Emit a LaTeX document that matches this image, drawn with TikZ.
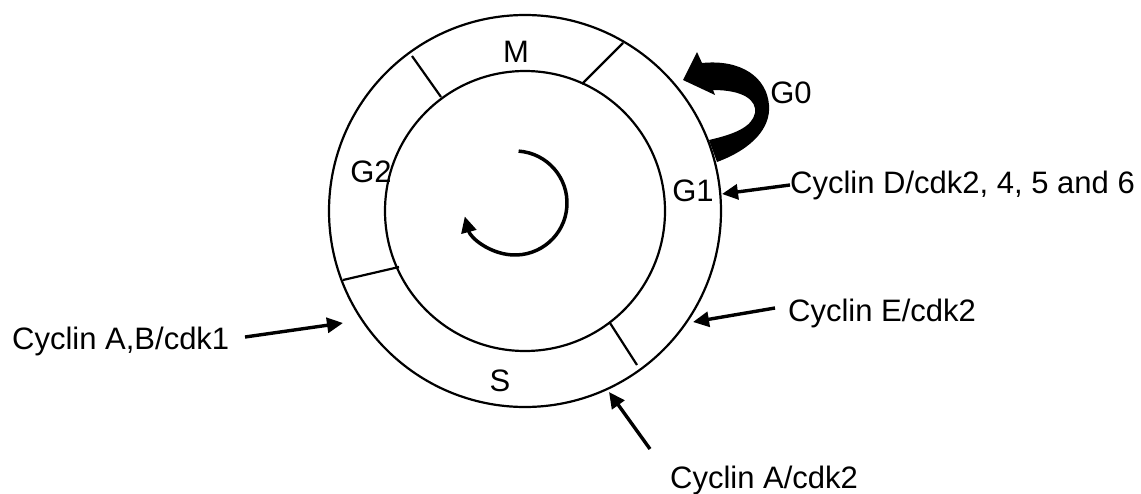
\documentclass[tikz,border=0pt]{standalone}
\usepackage{fontspec}
\setmainfont{Liberation Sans}
\usetikzlibrary{arrows.meta}
\begin{document}
\begin{tikzpicture}[x=1pt,y=-1pt,
  ring/.style={line width=2.2pt},
  lbl/.style={font=\fontsize{31}{36}\selectfont, inner sep=0pt},
  ptr/.style={line width=3.4pt, -{Triangle[length=16pt,width=15pt]}},
  spin/.style={line width=3.5pt, -{Triangle[length=16pt,width=15pt]}}
]
\path[use as bounding box, fill=white] (0,0) rectangle (1141,493);
\coordinate (c) at (525,211);
\draw[ring] (c) circle[radius=196];
\draw[ring] (c) circle[radius=140];
% phase dividers
\coordinate (d1a) at (412,56);  \coordinate (d1b) at (441,97);
\coordinate (d2a) at (623,43);  \coordinate (d2b) at (582,84);
\coordinate (d3a) at (343,280); \coordinate (d3b) at (399,267);
\coordinate (d4a) at (610,323); \coordinate (d4b) at (637,365);
\draw[ring] (d1a) -- (d1b);
\draw[ring] (d2a) -- (d2b);
\draw[ring] (d3a) -- (d3b);
\draw[ring] (d4a) -- (d4b);
% phase labels
\node[lbl] (M) at (516,52) {M};
\node[lbl] (G2) at (371,172) {G2};
\node[lbl] (G1) at (693,191) {G1};
\node[lbl] (S) at (500,381) {S};
\node[lbl] (G0) at (791,93) {G0};
% central rotation arrow
\coordinate (sc) at (515,203);
\draw[spin] (sc) ++(-86:52) arc[start angle=-86, end angle=165, radius=52];
% G0 curved block arrow
\fill (717,162) .. controls (752,149) and (771,128) .. (769,105)
  .. controls (767,78) and (742,59) .. (702,63)
  -- (697,52) -- (683,80) -- (715,95) -- (713,90)
  .. controls (743,90) and (757,100) .. (755,113)
  .. controls (752,127) and (735,134) .. (709,140) -- cycle;
% cyclin labels
\node[lbl, anchor=base west] (cd) at (790,193) {Cyclin D/cdk2, 4, 5 and 6};
\node[lbl, anchor=base west] (ce) at (788,321) {Cyclin E/cdk2};
\node[lbl, anchor=base west] (ca2) at (670,488) {Cyclin A/cdk2};
\node[lbl, anchor=base west] (cab) at (12,349) {Cyclin A,B/cdk1};
% arrows
\coordinate (tD) at (722,194);
\coordinate (sE) at (775,308); \coordinate (tE) at (693,322);
\coordinate (sA) at (650,449); \coordinate (tA) at (609,392);
\coordinate (sB) at (245,337); \coordinate (tB) at (343,323);
\draw[ptr] (cd.west) -- (tD);
\draw[ptr] (sE) -- (tE);
\draw[ptr] (sA) -- (tA);
\draw[ptr] (sB) -- (tB);
\end{tikzpicture}
\end{document}
